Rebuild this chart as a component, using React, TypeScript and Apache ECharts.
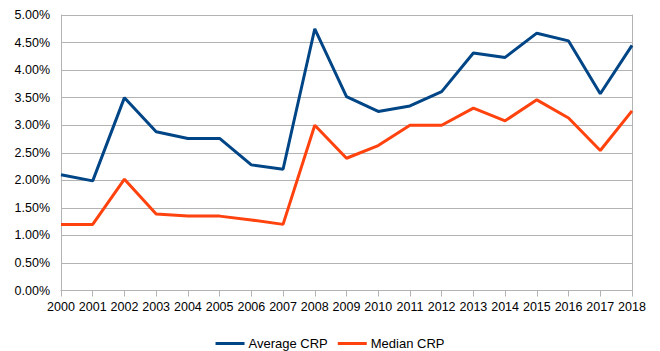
import React, { useEffect, useRef } from "react";
import * as echarts from "echarts";

const years = ["2000","2001","2002","2003","2004","2005","2006","2007","2008","2009","2010","2011","2012","2013","2014","2015","2016","2017","2018"];
const averageCRP = [2.10, 1.99, 3.50, 2.88, 2.76, 2.76, 2.28, 2.20, 4.75, 3.52, 3.25, 3.35, 3.61, 4.31, 4.23, 4.67, 4.53, 3.57, 4.45];
const medianCRP = [1.20, 1.20, 2.02, 1.39, 1.35, 1.35, 1.28, 1.20, 3.00, 2.40, 2.63, 3.00, 3.00, 3.31, 3.08, 3.46, 3.13, 2.54, 3.26];

export default function App() {
  const ref = useRef<HTMLDivElement>(null);
  useEffect(() => {
    if (!ref.current) return;
    const chart = echarts.init(ref.current, null, { renderer: "svg" });
    const font = "'Liberation Sans', Arial, sans-serif";
    chart.setOption({
      animation: false,
      textStyle: { fontFamily: font },
      grid: { left: 61, right: 28, top: 15, bottom: 60.5, containLabel: false },
      legend: {
        top: 332,
        left: "center",
        itemWidth: 29,
        itemHeight: 3,
        itemGap: 10,
        icon: "rect",
        textStyle: { fontFamily: font, fontSize: 13, color: "#000", padding: [0, 0, 0, -1] },
        data: ["Average CRP", "Median CRP"],
      },
      xAxis: {
        type: "category",
        data: years,
        boundaryGap: false,
        axisLine: { lineStyle: { color: "#b3b3b3", width: 1 } },
        axisTick: { show: true, length: 6, lineStyle: { color: "#b3b3b3" } },
        axisLabel: { color: "#000", fontSize: 12.5, fontFamily: font, margin: 10, interval: 0 },
        splitLine: { show: false },
      },
      yAxis: [
        {
          type: "value",
          min: 0,
          max: 5,
          interval: 0.5,
          axisLine: { show: true, lineStyle: { color: "#b3b3b3" } },
          axisTick: { show: false },
          splitLine: { lineStyle: { color: "#b3b3b3", width: 1 } },
          axisLabel: {
            color: "#000",
            fontSize: 12.5,
            fontFamily: font,
            margin: 11,
            formatter: (v: number) => v.toFixed(2) + "%",
          },
        },
        {
          type: "value",
          min: 0,
          max: 5,
          interval: 0.5,
          position: "right",
          axisLine: { show: true, lineStyle: { color: "#b3b3b3" } },
          axisTick: { show: false },
          axisLabel: { show: false },
          splitLine: { show: false },
        },
      ],
      series: [
        {
          name: "Average CRP",
          type: "line",
          data: averageCRP,
          symbol: "none",
          lineStyle: { color: "#004586", width: 3 },
          itemStyle: { color: "#004586" },
        },
        {
          name: "Median CRP",
          type: "line",
          data: medianCRP,
          symbol: "none",
          lineStyle: { color: "#ff420e", width: 3 },
          itemStyle: { color: "#ff420e" },
        },
      ],
    });
    return () => chart.dispose();
  }, []);
  return <div ref={ref} style={{ width: 660, height: 351, position: "absolute", left: 0, top: 0 }} />;
}
